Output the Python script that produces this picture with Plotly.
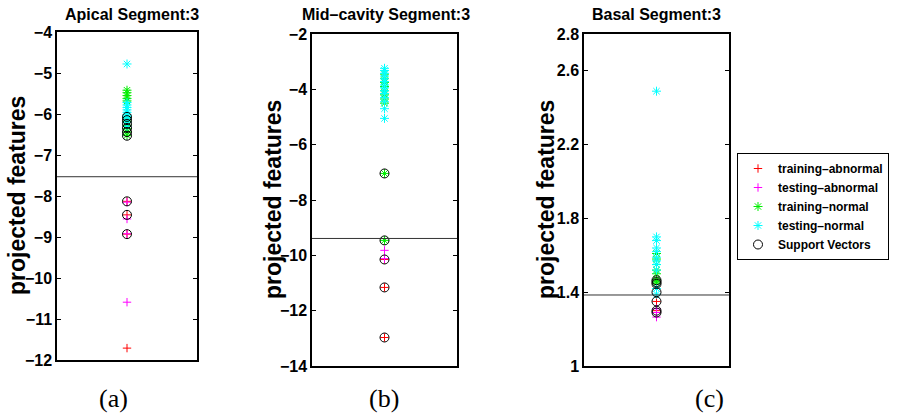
import plotly.graph_objects as go

W, H = 901, 417

# ---------------- data ----------------
panel_titles = ["Apical Segment:3", "Mid\u2013cavity Segment:3", "Basal Segment:3"]
panel_tags = ["(a)", "(b)", "(c)"]
series_names = ["training\u2013abnormal", "testing\u2013abnormal", "training\u2013normal",
                "testing\u2013normal", "Support Vectors"]

# Panel (a) Apical
red_a = [-8.13, -8.46, -8.93, -11.71]
mag_a = [-8.15, -8.56, -8.92, -10.59]
green_a = [-5.42, -5.48, -5.55, -5.62, -5.68, -6.08, -6.18, -6.28, -6.36, -6.44, -6.52]
cyan_a = [-4.78, -5.72, -5.78, -5.84, -5.90, -5.96, -6.02, -6.06, -6.12, -6.20, -6.30]
sv_a = [-6.07, -6.15, -6.24, -6.34, -6.44, -6.53, -8.13, -8.46, -8.93]
thr_a = -7.53

# Panel (b) Mid-cavity
red_b = [-10.15, -11.16, -12.97]
mag_b = [-9.82, -10.12]
green_b = [-3.45, -3.60, -3.75, -3.90, -4.05, -4.20, -4.35, -4.50, -7.04, -9.46]
cyan_b = [-3.24, -3.32, -3.42, -3.52, -3.62, -3.72, -3.84, -3.95, -4.05, -4.15,
          -4.30, -4.45, -4.70, -5.05]
sv_b = [-7.04, -9.46, -10.15, -11.16, -12.97]
thr_b = -9.39

# Panel (c) Basal
red_c = [1.35, 1.30, 1.29]
mag_c = [1.31, 1.29, 1.265]
green_c = [1.61, 1.58, 1.55, 1.52, 1.50, 1.47, 1.46, 1.45]
cyan_c = [2.49, 1.70, 1.68, 1.64, 1.62, 1.59, 1.57, 1.55, 1.52, 1.42, 1.39]
sv_c = [1.465, 1.455, 1.445, 1.40, 1.35, 1.30, 1.29]
thr_c = 1.385

ytick_a = [-12, -11, -10, -9, -8, -7, -6, -5, -4]
ytick_b = [-14, -12, -10, -8, -6, -4, -2]
ytick_c = [1, 1.4, 1.8, 2.2, 2.6, 2.8]
x_pos = 1

panels = [
    dict(series=[red_a, mag_a, green_a, cyan_a, sv_a], thr=thr_a, yr=[-12, -4], ticks=ytick_a,
         px=(57, 197), py=(32, 360), title_x=132, tag_x=114, ylab_x=17),
    dict(series=[red_b, mag_b, green_b, cyan_b, sv_b], thr=thr_b, yr=[-14, -2], ticks=ytick_b,
         px=(312, 457), py=(34, 366), title_x=386, tag_x=384, ylab_x=273),
    dict(series=[red_c, mag_c, green_c, cyan_c, sv_c], thr=thr_c, yr=[1, 2.8], ticks=ytick_c,
         px=(584, 729), py=(34, 366), title_x=656, tag_x=709, ylab_x=546),
]

styles = [
    dict(symbol="cross-thin-open", size=6, line=dict(color="#ff0000", width=1), color="#ff0000"),
    dict(symbol="cross-thin-open", size=6, line=dict(color="#ff00ff", width=1), color="#ff00ff"),
    dict(symbol="asterisk-open", size=7.5, line=dict(color="#00ee00", width=1), color="#00ee00"),
    dict(symbol="asterisk-open", size=7.5, line=dict(color="#00ffff", width=1), color="#00ffff"),
    dict(symbol="circle-open", size=9, line=dict(color="#000000", width=1), color="#000000"),
]

FONT = "Liberation Sans"
fig = go.Figure()
annotations = []
shapes = []

for i, p in enumerate(panels):
    sfx = "" if i == 0 else str(i + 1)
    for j, vals in enumerate(p["series"]):
        fig.add_trace(go.Scatter(
            x=[x_pos] * len(vals), y=vals, mode="markers",
            name=series_names[j], legendgroup=series_names[j], showlegend=(i == 0),
            marker=styles[j], xaxis="x" + sfx, yaxis="y" + sfx, hoverinfo="y"))
    x0, x1 = p["px"]
    y0, y1 = p["py"]
    fig.update_layout(**{
        "xaxis" + sfx: dict(domain=[x0 / W, x1 / W], range=[0, 2], showline=True, mirror=True,
                             linecolor="black", linewidth=1.5, ticks="", showticklabels=False,
                             showgrid=False, zeroline=False, anchor="y" + sfx, automargin=False),
        "yaxis" + sfx: dict(domain=[1 - y1 / H, 1 - y0 / H], range=p["yr"], tickvals=p["ticks"],
                             showline=True, mirror="ticks", linecolor="black", linewidth=1.5,
                             ticks="inside", ticklen=4, tickcolor="black", showgrid=False,
                             zeroline=False, anchor="x" + sfx, automargin=False,
                             tickfont=dict(family=FONT, size=16, color="black", weight="bold")),
    })
    shapes.append(dict(type="line", xref="x" + sfx + " domain", x0=0, x1=1,
                       yref="y" + sfx, y0=p["thr"], y1=p["thr"],
                       line=dict(color="#333333", width=1)))
    annotations.append(dict(text=panel_titles[i], x=p["title_x"] / W, y=1 - 14 / H,
                            xref="paper", yref="paper", showarrow=False,
                            xanchor="center", yanchor="middle",
                            font=dict(family=FONT, size=16, color="black", weight="bold")))
    annotations.append(dict(text="projected features", x=p["ylab_x"] / W,
                            y=1 - ((y0 + y1) / 2) / H, xref="paper", yref="paper",
                            showarrow=False, textangle=-90, xanchor="center", yanchor="middle",
                            font=dict(family=FONT, size=23, color="black", weight="bold")))
    annotations.append(dict(text=panel_tags[i], x=p["tag_x"] / W, y=1 - 398 / H,
                            xref="paper", yref="paper", showarrow=False,
                            xanchor="center", yanchor="middle",
                            font=dict(family="Liberation Serif", size=26, color="black")))

fig.update_layout(
    width=W, height=H, margin=dict(l=0, r=0, t=0, b=0, autoexpand=False),
    paper_bgcolor="white", plot_bgcolor="white",
    annotations=annotations, shapes=shapes,
    legend=dict(x=737 / W, y=1 - 153 / H, xanchor="left", yanchor="top",
                bordercolor="black", borderwidth=1, bgcolor="white",
                font=dict(family=FONT, size=12, color="black", weight="bold"),
                tracegroupgap=0),
    showlegend=True,
)

fig.write_html("out.html", config={"displayModeBar": False},
               post_script="document.body.style.margin='0px';document.body.style.overflow='hidden';")
